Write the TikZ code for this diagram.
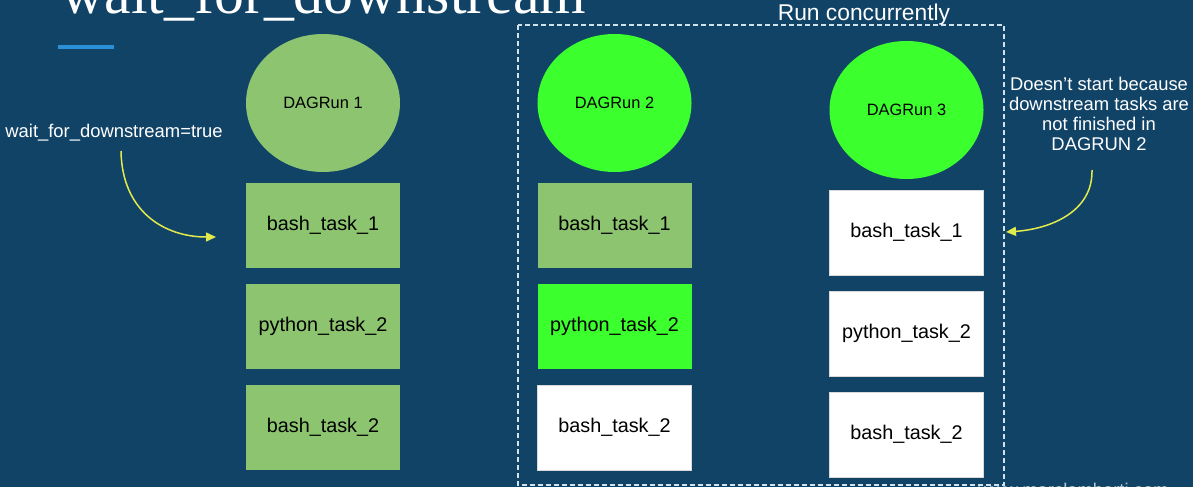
\documentclass[tikz,border=0pt]{standalone}
\usepackage{fontspec}
\setmainfont{Liberation Sans}
\newfontfamily\titlefont{Liberation Serif}
\usetikzlibrary{shapes.geometric,arrows.meta}
\definecolor{bg}{HTML}{114367}
\definecolor{lgreen}{HTML}{8DC470}
\definecolor{bgreen}{HTML}{3CFF2E}
\definecolor{accent}{HTML}{2A8FD6}
\definecolor{arrowc}{HTML}{E2EA4C}
\definecolor{dashc}{HTML}{D2E2EC}
\begin{document}
\begin{tikzpicture}[x=0.5pt,y=-0.5pt,
  dag/.style={ellipse, minimum width=77pt, minimum height=69pt, inner sep=0pt, font=\fontsize{8.2}{10}\selectfont, text=black},
  taskbox/.style={rectangle, minimum width=77pt, minimum height=42.5pt, inner sep=0pt, font=\fontsize{9.9}{12}\selectfont, text=black},
  whitebox/.style={taskbox, fill=white, draw=black!15, line width=0.3pt},
  note/.style={text=white, inner sep=0pt, font=\fontsize{9.2}{10}\selectfont},
  hint/.style={draw=arrowc, line width=0.75pt, -{Triangle[length=5pt,width=4.5pt,fill=arrowc]}}]
\fill[bg] (0,0) rectangle (1193,487);
\useasboundingbox (0,0) rectangle (1193,487);
\begin{scope}
\clip (0,0) rectangle (1193,487);
\node[anchor=base west, inner sep=0pt, text=white, font=\titlefont\fontsize{29.9}{30}\selectfont] (title) at (61,13) {wait\_for\_downstream};
\node[anchor=base west, inner sep=0pt, text=white, opacity=0.7, font=\fontsize{9.2}{10}\selectfont] (wm) at (978,496) {www.marclamberti.com};
\end{scope}
\fill[accent] (58,45) rectangle (114,49);
% group frame
\draw[dashc, line width=0.6pt, dash pattern=on 2.5pt off 1.5pt] (518,25) rectangle (1004,485);
\node[text=white, inner sep=0pt, font=\fontsize{11.4}{12}\selectfont] (run) at (864,15) {Run concurrently};
% column 1
\node[dag, fill=lgreen] (d1) at (323,103) {DAGRun 1};
\node[taskbox, fill=lgreen] (b11) at (323,225.5) {bash\_task\_1};
\node[taskbox, fill=lgreen] (p12) at (323,326.5) {python\_task\_2};
\node[taskbox, fill=lgreen] (b12) at (323,427.5) {bash\_task\_2};
% column 2
\node[dag, fill=bgreen] (d2) at (614.5,103) {DAGRun 2};
\node[taskbox, fill=lgreen] (b21) at (614.5,225.5) {bash\_task\_1};
\node[taskbox, fill=bgreen] (p22) at (614.5,326.5) {python\_task\_2};
\node[whitebox] (b22) at (614.5,427.5) {bash\_task\_2};
% column 3
\node[dag, fill=bgreen] (d3) at (906.5,110) {DAGRun 3};
\node[whitebox] (b31) at (906.5,232.5) {bash\_task\_1};
\node[whitebox] (p32) at (906.5,333.5) {python\_task\_2};
\node[whitebox] (b32) at (906.5,434.5) {bash\_task\_2};
% notes
\node[note, anchor=west] (wn) at (5,133) {wait\_for\_downstream=true};
\node[note, align=center] (rn) at (1099,114) {Doesn't start because\\downstream tasks are\\not finished in\\DAGRUN 2};
\coordinate (ls) at (121,151);
\coordinate (le) at (216,237);
\coordinate (rs) at (1092,170);
\coordinate (re) at (1006,232);
\draw[hint] (ls) .. controls (122,212) and (165,237) .. (le);
\draw[hint] (rs) .. controls (1093,212) and (1050,229) .. (re);
\end{tikzpicture}
\end{document}
